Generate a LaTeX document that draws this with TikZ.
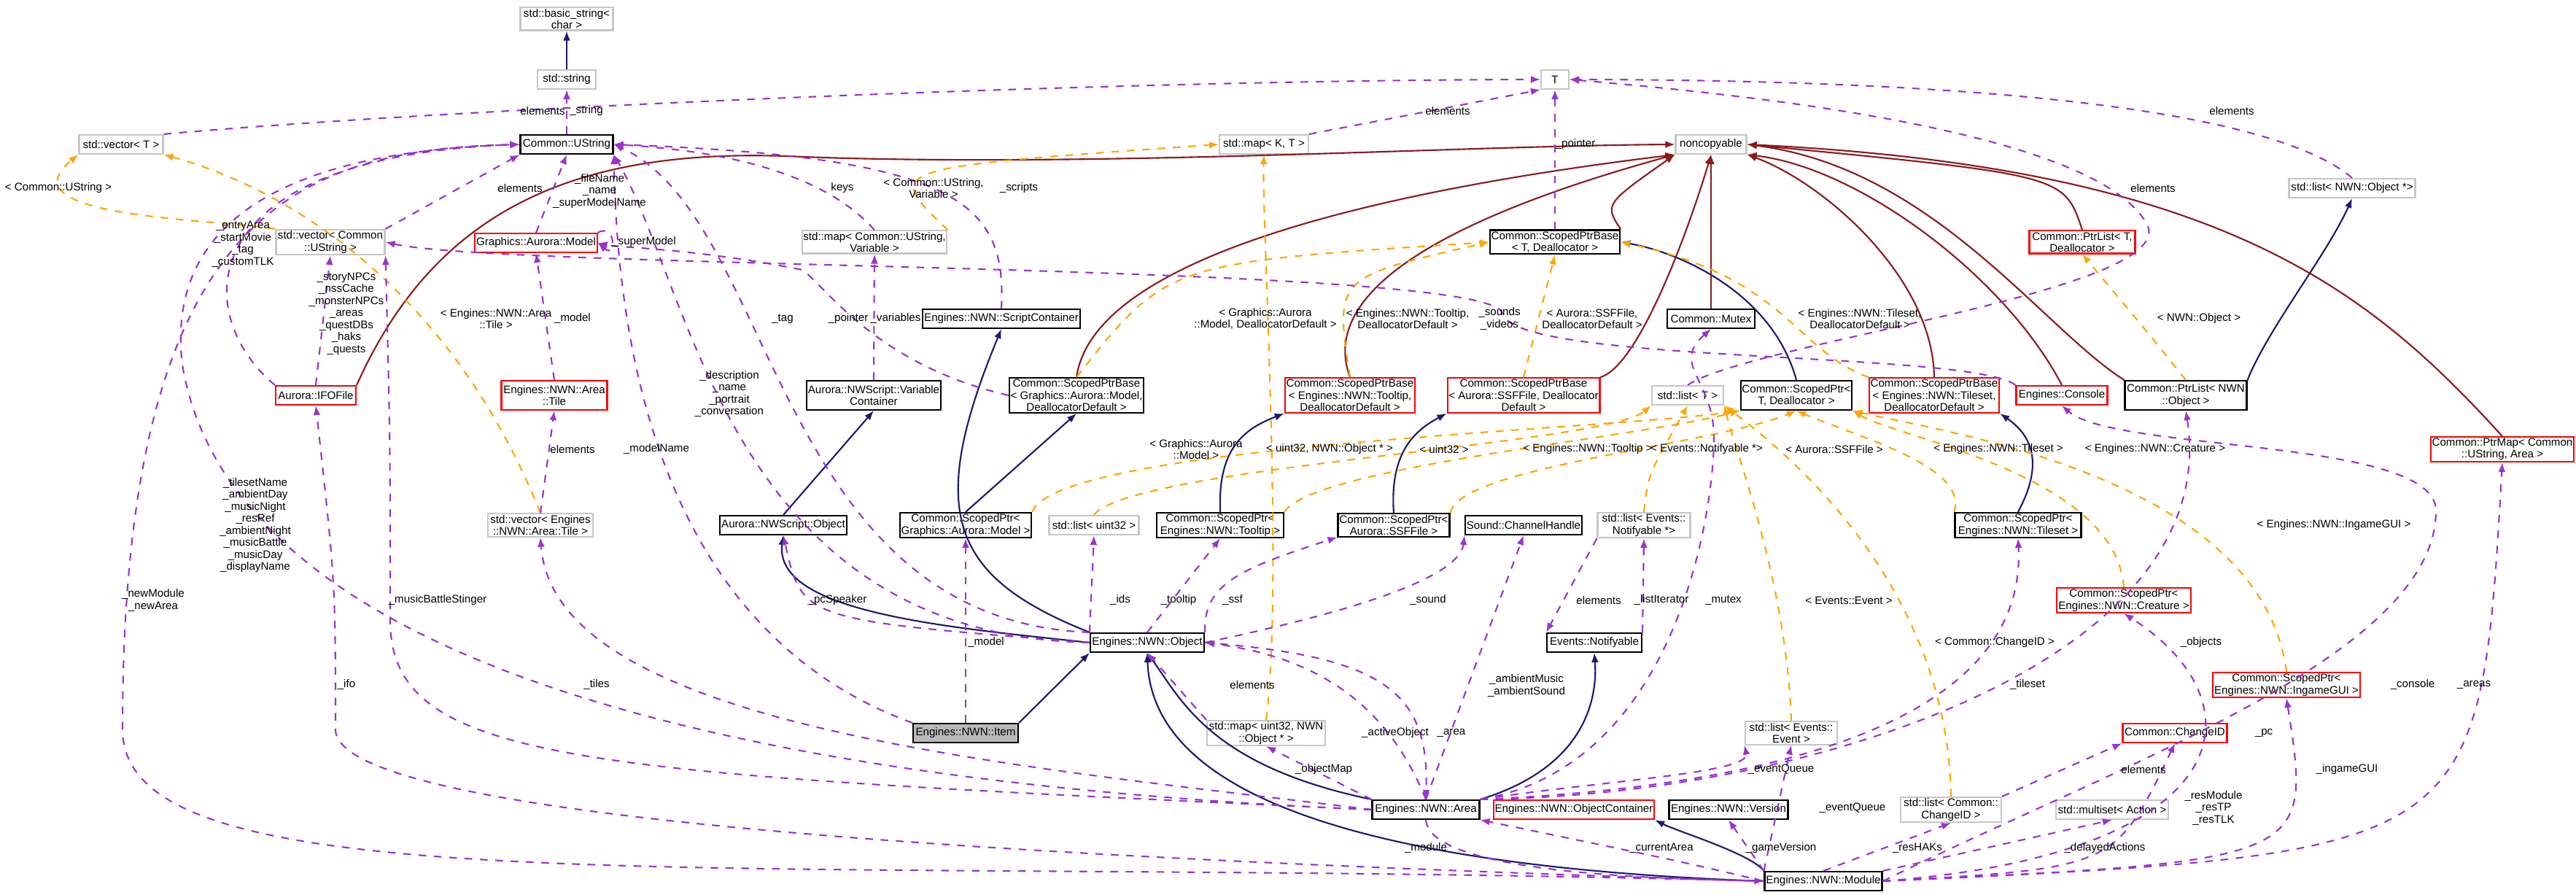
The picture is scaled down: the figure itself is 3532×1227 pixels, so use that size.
\documentclass[tikz,border=0pt]{standalone}
\usepackage{fontspec}
\setmainfont{Liberation Sans}
\usetikzlibrary{arrows.meta,positioning}
\definecolor{usecol}{RGB}{154,50,205}
\definecolor{tplcol}{RGB}{255,165,0}
\definecolor{inhcol}{RGB}{25,25,112}
\definecolor{nccol}{RGB}{139,26,26}
\newcommand{\fs}{\fontsize{4.3}{4.7}\selectfont}
\tikzset{
  cls/.style={draw=black,semithick,rectangle,minimum height=2.6mm,inner sep=0.5pt,align=center,font=\fs},
  ext/.style={cls,draw=gray!45},
  red/.style={cls,draw=red},
  lbl/.style={font=\fs,align=center,inner sep=0pt},
  tip/.style={-{Latex[length=1.3mm,width=1mm]}},
  use/.style={tip,dashed,usecol,semithick},
  tpl/.style={tip,dashed,tplcol,semithick},
  inh/.style={tip,inhcol,semithick},
  ncp/.style={tip,nccol,semithick}
}
\begin{document}
\begin{tikzpicture}[x=0.1mm,y=-0.1mm]
\useasboundingbox[fill=white] (0,0) rectangle (3532,1227);
% classes
\node[ext,minimum width=12.7mm] (bstr) at (777,26) {std::basic\_string\textless\\char \textgreater};
\node[ext,minimum width=8mm] (str) at (777,109) {std::string};
\node[ext,minimum width=11.5mm] (vecT) at (166,198) {std::vector\textless{} T \textgreater};
\node[cls,minimum width=12.7mm] (ustr) at (777,198) {Common::UString};
\node[ext,minimum width=14.9mm] (vecU) at (453,332) {std::vector\textless{} Common\\::UString \textgreater};
\node[red,minimum width=16.3mm] (model) at (735,333) {Graphics::Aurora::Model};
\node[ext,minimum width=19.4mm] (mapUV) at (1199,332) {std::map\textless{} Common::UString,\\Variable \textgreater};
\node[red,minimum width=11mm] (ifo) at (433,542) {Aurora::IFOFile};
\node[red,minimum width=14.5mm,minimum height=4mm] (tile) at (760,542) {Engines::NWN::Area\\::Tile};
\node[cls,minimum width=17.9mm,minimum height=4mm] (varc) at (1198,542) {Aurora::NWScript::Variable\\Container};
\node[ext,minimum width=3.8mm] (T) at (2132,109) {T};
\node[ext,minimum width=12.2mm] (mapKT) at (1733,198) {std::map\textless{} K, T \textgreater};
\node[ext,minimum width=9.7mm] (noncp) at (2346,198) {noncopyable};
\node[cls,minimum width=17.6mm] (spbT) at (2132,332) {Common::ScopedPtrBase\\\textless{} T, Deallocator \textgreater};
\node[cls,minimum width=20.8mm] (scont) at (1373,437) {Engines::NWN::ScriptContainer};
\node[cls,minimum width=12mm] (mutex) at (2346,437) {Common::Mutex};
\node[cls,minimum width=17.8mm] (spbM) at (1476,542) {Common::ScopedPtrBase\\\textless{} Graphics::Aurora::Model,\\DeallocatorDefault \textgreater};
\node[red,minimum width=17.5mm] (spbTT) at (1851,542) {Common::ScopedPtrBase\\\textless{} Engines::NWN::Tooltip,\\DeallocatorDefault \textgreater};
\node[red,minimum width=20.1mm] (spbS) at (2089,542) {Common::ScopedPtrBase\\\textless{} Aurora::SSFFile, Deallocator\\Default \textgreater};
\node[ext,minimum width=9.8mm] (listT) at (2314,542) {std::list\textless{} T \textgreater};
\node[cls,minimum width=15.2mm,minimum height=4mm] (spT) at (2463,542) {Common::ScopedPtr\textless\\T, Deallocator \textgreater};
\node[red,minimum width=17.4mm] (spbTS) at (2652,542) {Common::ScopedPtrBase\\\textless{} Engines::NWN::Tileset,\\DeallocatorDefault \textgreater};
\node[red,minimum width=12.5mm] (console) at (2827,542) {Engines::Console};
\node[cls,minimum width=16.7mm,minimum height=4mm] (plO) at (2997,542) {Common::PtrList\textless{} NWN\\::Object \textgreater};
\node[red,minimum width=14.5mm] (plT) at (2855,332) {Common::PtrList\textless{} T,\\Deallocator \textgreater};
\node[ext,minimum width=17.3mm] (listO) at (3225,258) {std::list\textless{} NWN::Object *\textgreater};
\node[red,minimum width=19mm] (pmap) at (3431,616) {Common::PtrMap\textless{} Common\\::UString, Area \textgreater};
\node[ext,minimum width=14.4mm] (vecTile) at (741,720) {std::vector\textless{} Engines\\::NWN::Area::Tile \textgreater};
\node[cls,minimum width=17.2mm] (nsobj) at (1074,720) {Aurora::NWScript::Object};
\node[cls,minimum width=17.9mm] (spM) at (1324,720) {Common::ScopedPtr\textless\\Graphics::Aurora::Model \textgreater};
\node[ext,minimum width=12.3mm] (listU) at (1500,720) {std::list\textless{} uint32 \textgreater};
\node[cls,minimum width=17.4mm] (spTT) at (1673,720) {Common::ScopedPtr\textless\\Engines::NWN::Tooltip \textgreater};
\node[cls,minimum width=15.3mm] (spS) at (1911,720) {Common::ScopedPtr\textless\\Aurora::SSFFile \textgreater};
\node[cls,minimum width=15.6mm] (chan) at (2089,720) {Sound::ChannelHandle};
\node[ext,minimum width=12.7mm] (listN) at (2254,720) {std::list\textless{} Events::\\Notifyable *\textgreater};
\node[cls,minimum width=17.3mm] (spTS) at (2767,720) {Common::ScopedPtr\textless\\Engines::NWN::Tileset \textgreater};
\node[red,minimum width=18.4mm] (spC) at (2912,823) {Common::ScopedPtr\textless\\Engines::NWN::Creature \textgreater};
\node[cls,minimum width=15.6mm] (nobj) at (1573,881) {Engines::NWN::Object};
\node[cls,minimum width=13mm] (notif) at (2186,881) {Events::Notifyable};
\node[red,minimum width=20.1mm] (spG) at (3135,939) {Common::ScopedPtr\textless\\Engines::NWN::IngameGUI \textgreater};
\node[cls,fill=gray!55,minimum width=14.4mm] (item) at (1324,1005) {Engines::NWN::Item};
\node[ext,minimum width=16.2mm] (mapO) at (1736,1005) {std::map\textless{} uint32, NWN\\::Object * \textgreater};
\node[ext,minimum width=12.6mm] (listE) at (2456,1005) {std::list\textless{} Events::\\Event \textgreater};
\node[red,minimum width=14.3mm] (chid) at (2982,1005) {Common::ChangeID};
\node[cls,minimum width=14.7mm] (area) at (1955,1110) {Engines::NWN::Area};
\node[red,minimum width=21.2mm] (ocont) at (2158,1110) {Engines::NWN::ObjectContainer};
\node[cls,minimum width=16.3mm] (ver) at (2370,1110) {Engines::NWN::Version};
\node[ext,minimum width=13.8mm] (listC) at (2675,1110) {std::list\textless{} Common::\\ChangeID \textgreater};
\node[ext,minimum width=15.4mm] (mset) at (2896,1110) {std::multiset\textless{} Action \textgreater};
\node[cls,minimum width=16.1mm] (mod) at (2500,1208) {Engines::NWN::Module};

% inheritance
\draw[inh] (str) -- (bstr);
\draw[inh] (nobj.west) .. controls (1300,860) and (1060,840) .. (nsobj.south);
\draw[inh] (nsobj.north) -- (varc.south);
\draw[inh] (nobj.north west) .. controls (1300,790) and (1270,700) .. (scont.south);
\draw[inh] (item.north east) -- (nobj.south west);
\draw[inh] (area.north west) .. controls (1660,1050) and (1620,960) .. (nobj.south);
\draw[inh] (mod.west) .. controls (1900,1190) and (1580,1100) .. (nobj.south);
\draw[inh] (spM.north) -- (spbM.south);
\draw[inh] (spTT.north) .. controls (1670,620) and (1700,590) .. (spbTT.south west);
\draw[inh] (spS.north) .. controls (1905,620) and (1940,590) .. (spbS.south west);
\draw[inh] (spT.north) .. controls (2430,400) and (2300,345) .. (spbT.east);
\draw[inh] (spTS.north) .. controls (2800,640) and (2790,600) .. (spbTS.south east);
\draw[inh] (plO.north east) .. controls (3110,450) and (3190,350) .. (listO.south);
\draw[inh] (area.north east) .. controls (2180,1050) and (2190,950) .. (notif.south);
\draw[inh] (mod.north west) .. controls (2400,1170) and (2300,1140) .. (ocont.south east);
% noncopyable
\draw[ncp] (ifo.north east) .. controls (600,280) and (800,200) .. (1100,215) .. controls (1500,230) and (2000,200) .. (noncp.west);
\draw[ncp] (spbM.north) .. controls (1500,350) and (1900,260) .. (noncp.south west);
\draw[ncp] (spbTT.north) .. controls (1800,380) and (2050,280) .. (noncp.south west);
\draw[ncp] (spbT.north east) .. controls (2200,280) .. (noncp.south west);
\draw[ncp] (mutex) -- (noncp);
\draw[ncp] (spbS.north east) .. controls (2250,500) and (2320,300) .. (noncp.south);
\draw[ncp] (spbTS.north) .. controls (2650,380) and (2500,250) .. (noncp.south east);
\draw[ncp] (console.north) .. controls (2750,380) and (2550,230) .. (noncp.south east);
\draw[ncp] (plO.north west) .. controls (2800,450) and (2650,230) .. (noncp.east);
\draw[ncp] (plT.north) .. controls (2830,240) .. (noncp.east);
\draw[ncp] (pmap.north) .. controls (3250,400) and (3050,230) .. (noncp.east);
% templates
\draw[tpl] (vecU.north west) .. controls (300,300) and (0,300) .. (vecT.south west);
\draw[tpl] (vecTile.north) .. controls (620,400) and (400,260) .. (vecT.south east);
\draw[tpl] (mapUV.north east) .. controls (1210,230) .. (mapKT.west);
\draw[tpl] (mapO.north) .. controls (1760,800) and (1730,300) .. (mapKT.south);
\draw[tpl] (spbM.north) .. controls (1600,360) .. (spbT.west);
\draw[tpl] (spbTT.north) .. controls (1830,380) .. (spbT.west);
\draw[tpl] (spbS.north) -- (spbT.south);
\draw[tpl] (spbTS.north west) .. controls (2460,480) and (2450,380) .. (spbT.east);
\draw[tpl] (spM.north east) .. controls (1450,610) and (2200,590) .. (spT.south west);
\draw[tpl] (spTT.north east) .. controls (1800,640) and (2250,600) .. (spT.south west);
\draw[tpl] (spS.north east) .. controls (2000,640) and (2350,610) .. (spT.south);
\draw[tpl] (spTS.north west) .. controls (2700,640) and (2550,600) .. (spT.south);
\draw[tpl] (spC.north) .. controls (2900,650) and (2600,600) .. (spT.south east);
\draw[tpl] (spG.north) .. controls (3100,650) and (2650,590) .. (spT.south east);
\draw[tpl] (listU.north) .. controls (1550,640) and (2200,610) .. (listT.south west);
\draw[tpl] (listN.north) .. controls (2260,650) .. (listT.south);
\draw[tpl] (listE.north) .. controls (2450,800) and (2380,620) .. (listT.south east);
\draw[tpl] (listC.north) .. controls (2670,800) and (2450,620) .. (listT.south east);
\draw[tpl] (plO.north) .. controls (2940,450) .. (plT.south);
% usage
\draw[use] (ustr.north) -- (str.south);
\draw[use] (vecT.north east) .. controls (600,150) and (1500,110) .. (T.west);
\draw[use] (mapKT.north east) -- (T.south west);
\draw[use] (spbT.north) -- (T.south);
\draw[use] (listT.north) .. controls (2400,470) and (2980,400) .. (2945,310) .. controls (2880,180) and (2400,130) .. (T.east);
\draw[use] (listO.north) .. controls (3150,180) and (2900,110) .. (T.east);
\draw[use] (vecU.north east) -- (ustr.south west);
\draw[use] (model.north) -- (ustr.south);
\draw[use] (model.north east) .. controls (845,305) and (845,355) .. (model.east);
\draw[use] (mapUV.north) .. controls (1150,260) and (1050,210) .. (ustr.east);
\draw[use] (scont.north) .. controls (1380,280) and (1320,215) .. (ustr.east);
\draw[use] (ifo.north west) .. controls (260,430) and (260,215) .. (ustr.west);
\draw[use] (ifo.north) -- (vecU.south);
\draw[use] (tile.north) -- (model.south);
\draw[use] (varc.north) -- (mapUV.south);
\draw[use] (spbM.west) .. controls (1200,500) and (1130,390) .. (1100,370) .. controls (950,340) and (850,340) .. (model.east);
\draw[use] (console.north west) .. controls (2700,480) and (2080,500) .. (2060,430) .. controls (2050,360) and (700,370) .. (vecU.east);
\draw[use] (area.north east) .. controls (2300,1050) and (2350,700) .. (2350,600) .. controls (2350,520) and (2290,500) .. (mutex.south);
\draw[use] (vecTile.north) -- (tile.south);
\draw[use] (area.west) .. controls (1400,1050) and (760,1000) .. (vecTile.south);
\draw[use] (item.north west) .. controls (1000,900) and (850,650) .. (ustr.south east);
\draw[use] (nobj.west) .. controls (1000,870) and (950,400) .. (ustr.south east);
\draw[use] (nobj.north west) .. controls (1060,850) and (1065,300) .. (ustr.east);
\draw[use] (nobj.west) .. controls (1100,850) .. (nsobj.south);
\draw[use] (area.west) .. controls (700,1060) and (300,800) .. (250,500) .. controls (220,250) and (500,205) .. (ustr.west);
\draw[use] (area.west) .. controls (800,1060) and (535,1050) .. (535,850) .. controls (535,600) .. (vecU.south east);
\draw[use] (mod.west) .. controls (1500,1180) and (460,1130) .. (460,1000) .. controls (460,800) .. (ifo.south);
\draw[use] (mod.west) .. controls (1000,1170) and (168,1250) .. (168,1000) .. controls (168,300) and (400,205) .. (ustr.west);
\draw[use] (item.north) -- (spM.south);
\draw[use] (nobj.north west) -- (listU.south);
\draw[use] (nobj.north) -- (spTT.south);
\draw[use] (nobj.north east) .. controls (1650,800) and (1700,780) .. (spS.south west);
\draw[use] (nobj.east) .. controls (1800,850) and (2000,800) .. (chan.south west);
\draw[use] (area.north) -- (chan.south);
\draw[use] (listN.south west) -- (notif.north west);
\draw[use] (notif.north east) -- (listN.south);
\draw[use] (mapO.north west) -- (nobj.south);
\draw[use] (area.north west) -- (mapO.south);
\draw[use] (area.north) .. controls (1900,960) and (1800,900) .. (nobj.east);
\draw[use] (nobj.east) .. controls (1900,900) and (1960,950) .. (area.north);
\draw[use] (area.north east) .. controls (2200,1070) and (2400,1060) .. (listE.south west);
\draw[use] (mod.north west) -- (listE.south);
\draw[use] (area.north east) .. controls (2400,1080) and (2780,1000) .. (spTS.south);
\draw[use] (area.north east) .. controls (2500,1090) and (3050,900) .. (plO.south);
\draw[use] (mod.east) .. controls (2900,1050) and (3340,900) .. (3340,700) .. controls (3340,600) and (2900,620) .. (console.south);
\draw[use] (area.south) .. controls (1960,1200) and (2300,1205) .. (mod.west);
\draw[use] (mod.west) .. controls (2300,1180) .. (area.south east);
\draw[use] (mod.north west) -- (ver.south);
\draw[use] (mod.north) -- (listC.south);
\draw[use] (listC.north east) -- (chid.south west);
\draw[use] (mod.east) .. controls (2900,1190) .. (chid.south);
\draw[use] (mod.north east) -- (mset.south);
\draw[use] (mod.east) .. controls (3080,1170) and (3100,960) .. (spC.south);
\draw[use] (mod.east) .. controls (3170,1180) .. (spG.south);
\draw[use] (mod.east) .. controls (3400,1170) .. (pmap.south);
% labels
\node[lbl] (l1) at (744,152) {elements};
\node[lbl] (l2) at (804,152) {\_string};
\node[lbl] (l3) at (1985,152) {elements};
\node[lbl] (l4) at (2160,198) {\_pointer};
\node[lbl] (l5) at (2952,258) {elements};
\node[lbl] (l6) at (3060,152) {elements};
\node[lbl] (l7) at (713,258) {elements};
\node[lbl] (l8) at (822,262) {\_fileName\\\_name\\\_superModelName};
\node[lbl] (l9) at (883,332) {\_superModel};
\node[lbl] (l10) at (1155,258) {keys};
\node[lbl] (l11) at (1397,258) {\_scripts};
\node[lbl] (l12) at (333,335) {\_entryArea\\\_startMovie\\\_tag\\\_customTLK};
\node[lbl] (l13) at (475,430) {\_storyNPCs\\\_nssCache\\\_monsterNPCs\\\_areas\\\_questDBs\\\_haks\\\_quests};
\node[lbl] (l14) at (785,437) {\_model};
\node[lbl] (l15) at (1228,437) {\_variables};
\node[lbl] (l16) at (1163,437) {\_pointer};
\node[lbl] (l17) at (2056,437) {\_sounds\\\_videos};
\node[lbl] (l18) at (2363,823) {\_mutex};
\node[lbl] (l19) at (785,616) {elements};
\node[lbl] (l20) at (818,939) {\_tiles};
\node[lbl] (l21) at (900,616) {\_modelName};
\node[lbl] (l22) at (1000,540) {\_description\\\_name\\\_portrait\\\_conversation};
\node[lbl] (l23) at (1073,437) {\_tag};
\node[lbl] (l24) at (1148,823) {\_pcSpeaker};
\node[lbl] (l25) at (350,720) {\_tilesetName\\\_ambientDay\\\_musicNight\\\_resRef\\\_ambientNight\\\_musicBattle\\\_musicDay\\\_displayName};
\node[lbl] (l26) at (600,823) {\_musicBattleStinger};
\node[lbl] (l27) at (475,939) {\_ifo};
\node[lbl] (l28) at (210,823) {\_newModule\\\_newArea};
\node[lbl] (l29) at (1352,881) {\_model};
\node[lbl] (l30) at (1536,823) {\_ids};
\node[lbl] (l31) at (1616,823) {\_tooltip};
\node[lbl] (l32) at (1690,823) {\_ssf};
\node[lbl] (l33) at (1958,823) {\_sound};
\node[lbl] (l34) at (2093,940) {\_ambientMusic\\\_ambientSound};
\node[lbl] (l35) at (2192,823) {elements};
\node[lbl] (l36) at (2278,823) {\_listIterator};
\node[lbl] (l37) at (1717,939) {elements};
\node[lbl] (l38) at (1815,1055) {\_objectMap};
\node[lbl] (l39) at (1913,1005) {\_activeObject};
\node[lbl] (l40) at (1990,1005) {\_area};
\node[lbl] (l41) at (2442,1055) {\_eventQueue};
\node[lbl] (l42) at (2540,1108) {\_eventQueue};
\node[lbl] (l43) at (2780,939) {\_tileset};
\node[lbl] (l44) at (3018,881) {\_objects};
\node[lbl] (l45) at (3308,939) {\_console};
\node[lbl] (l46) at (1955,1163) {\_module};
\node[lbl] (l47) at (2278,1163) {\_currentArea};
\node[lbl] (l48) at (2442,1163) {\_gameVersion};
\node[lbl] (l49) at (2629,1163) {\_resHAKs};
\node[lbl] (l50) at (2939,1055) {elements};
\node[lbl] (l51) at (3035,1108) {\_resModule\\\_resTP\\\_resTLK};
\node[lbl] (l52) at (2886,1163) {\_delayedActions};
\node[lbl] (l53) at (3104,1005) {\_pc};
\node[lbl] (l54) at (3218,1055) {\_ingameGUI};
\node[lbl] (l55) at (3392,939) {\_areas};
\node[lbl] (t1) at (80,258) {\textless{} Common::UString \textgreater};
\node[lbl] (t2) at (680,437) {\textless{} Engines::NWN::Area\\::Tile \textgreater};
\node[lbl] (t3) at (1280,258) {\textless{} Common::UString,\\Variable \textgreater};
\node[lbl] (t4) at (1823,616) {\textless{} uint32, NWN::Object * \textgreater};
\node[lbl] (t5) at (1735,437) {\textless{} Graphics::Aurora\\::Model, DeallocatorDefault \textgreater};
\node[lbl] (t6) at (1930,437) {\textless{} Engines::NWN::Tooltip,\\DeallocatorDefault \textgreater};
\node[lbl] (t7) at (2183,437) {\textless{} Aurora::SSFFile,\\DeallocatorDefault \textgreater};
\node[lbl] (t8) at (2550,437) {\textless{} Engines::NWN::Tileset,\\DeallocatorDefault \textgreater};
\node[lbl] (t9) at (1640,616) {\textless{} Graphics::Aurora\\::Model \textgreater};
\node[lbl] (t10) at (2177,616) {\textless{} Engines::NWN::Tooltip \textgreater};
\node[lbl] (t11) at (2515,616) {\textless{} Aurora::SSFFile \textgreater};
\node[lbl] (t12) at (2740,616) {\textless{} Engines::NWN::Tileset \textgreater};
\node[lbl] (t13) at (2955,616) {\textless{} Engines::NWN::Creature \textgreater};
\node[lbl] (t14) at (3200,720) {\textless{} Engines::NWN::IngameGUI \textgreater};
\node[lbl] (t15) at (1980,616) {\textless{} uint32 \textgreater};
\node[lbl] (t16) at (2340,616) {\textless{} Events::Notifyable *\textgreater};
\node[lbl] (t17) at (2535,823) {\textless{} Events::Event \textgreater};
\node[lbl] (t18) at (2735,881) {\textless{} Common::ChangeID \textgreater};
\node[lbl] (t19) at (3015,437) {\textless{} NWN::Object \textgreater};
\end{tikzpicture}
\end{document}
